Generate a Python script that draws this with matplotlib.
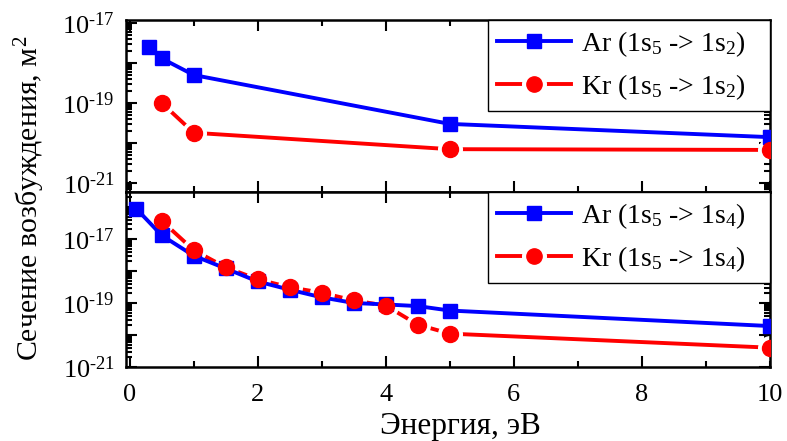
import numpy as np
import matplotlib
matplotlib.use("Agg")
import matplotlib.pyplot as plt
from matplotlib.lines import Line2D
from matplotlib.ticker import LogLocator, FuncFormatter, MultipleLocator, NullFormatter

plt.rcParams['font.family'] = ['Liberation Serif', 'DejaVu Serif']
plt.rcParams['mathtext.fontset'] = 'custom'
plt.rcParams['mathtext.rm'] = 'Liberation Serif'
plt.rcParams['mathtext.it'] = 'Liberation Serif:italic'

# 1s5 -> 1s2
ar2_e = [0.3, 0.5, 1, 5, 10]
ar2_s = [2.5e-18, 1.3e-18, 5.0e-19, 3.0e-20, 1.4e-20]
kr2_e = [0.5, 1, 5, 10]
kr2_s = [1.0e-19, 1.8e-20, 7.0e-21, 6.7e-21]

# 1s5 -> 1s4
ar4_e = [0.1, 0.5, 1, 1.5, 2, 2.5, 3, 3.5, 4, 4.5, 5, 10]
ar4_s = [9.0e-17, 1.3e-17, 3.0e-18, 1.2e-18, 4.7e-19, 2.6e-19, 1.5e-19,
         1.0e-19, 9.0e-20, 8.0e-20, 5.8e-20, 1.9e-20]
kr4_e = [0.5, 1, 1.5, 2, 2.5, 3, 3.5, 4, 4.5, 5, 10]
kr4_s = [3.7e-17, 4.5e-18, 1.3e-18, 5.5e-19, 3.1e-19, 2.1e-19, 1.2e-19,
         8.3e-20, 2.1e-20, 1.1e-20, 4.0e-21]

labels_top = [r'Ar (1s$_5$ -> 1s$_2$)   ', r'Kr (1s$_5$ -> 1s$_2$)   ']
labels_bot = [r'Ar (1s$_5$ -> 1s$_4$)   ', r'Kr (1s$_5$ -> 1s$_4$)   ']

fig = plt.figure(figsize=(7.87, 4.41), dpi=100)
ax1 = fig.add_axes([0.160, 0.565, 0.818, 0.390])
ax2 = fig.add_axes([0.160, 0.168, 0.818, 0.397])


def fmt(v, pos):
    e = int(round(np.log10(v)))
    if e % 2 != 0:
        return r'$10^{\text{%d}}$' % e
    return ''


def draw(ax, ae, as_, ke, ks, labels):
    # red line with small gaps around the markers
    ax.plot(ke, ks, color='red', lw=2.8, marker='o', ms=17,
            mfc='white', mec='white', zorder=2)
    hb, = ax.plot(ae, as_, color='blue', lw=2.8, marker='s', ms=9.5,
                  mec='blue', zorder=3)
    ax.plot(ke, ks, ls='none', marker='o', ms=11.5, color='red', zorder=4)
    h1 = Line2D([], [], color='red', lw=2.8, marker='o', ms=17, mfc='white', mec='white')
    h2 = Line2D([], [], ls='none', marker='o', ms=11, color='red')
    leg = ax.legend([hb, (h1, h2)], labels, loc='upper right', borderaxespad=0,
                    fancybox=False, framealpha=1, edgecolor='black',
                    fontsize=20, handlelength=2.66, numpoints=1,
                    borderpad=0.33, labelspacing=0.47, handletextpad=0.36)
    leg.get_frame().set_linewidth(1.0)
    ax.set_yscale('log')
    ax.set_xlim(-0.06, 10)
    ax.xaxis.set_major_locator(MultipleLocator(2))
    ax.xaxis.set_minor_locator(MultipleLocator(1))
    ax.yaxis.set_major_locator(LogLocator(base=10, numticks=20))
    ax.yaxis.set_minor_locator(LogLocator(base=10, subs=np.arange(2, 10), numticks=20))
    ax.yaxis.set_major_formatter(FuncFormatter(fmt))
    ax.yaxis.set_minor_formatter(NullFormatter())
    ax.tick_params(which='both', direction='in', top=True, right=True,
                   labelsize=19, width=1.5)
    ax.tick_params(axis='y', pad=8)
    ax.tick_params(axis='x', pad=12)
    ax.tick_params(which='major', length=8)
    ax.tick_params(which='minor', length=4)
    for s in ax.spines.values():
        s.set_linewidth(1.8)


draw(ax1, ar2_e, ar2_s, kr2_e, kr2_s, labels_top)
draw(ax2, ar4_e, ar4_s, kr4_e, kr4_s, labels_bot)

ax1.set_ylim(6e-22, 1.2e-17)
ax2.set_ylim(1e-21, 3e-16)
ax1.tick_params(axis='x', labelbottom=False)

ax2.set_xlabel('Энергия, эВ', fontsize=22.5)
ax2.xaxis.set_label_coords(0.52, -0.255)
fig.text(0.038, 0.551, 'Сечение возбуждения, м$^2$', rotation=90,
         fontsize=21.5, ha='center', va='center')

fig.savefig('out.png', dpi=100)
